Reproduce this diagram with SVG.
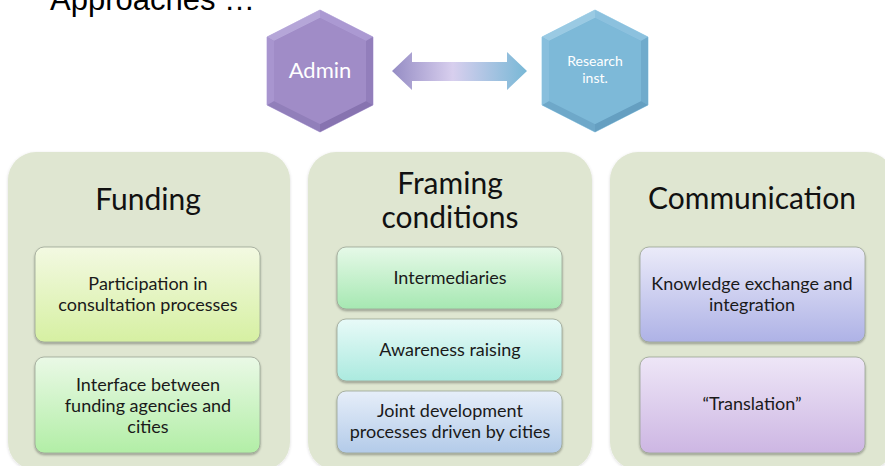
<svg xmlns="http://www.w3.org/2000/svg" width="885" height="466" viewBox="0 0 885 466">
<style>
.title{font-family:"Liberation Sans",Arial,sans-serif;font-size:31px;fill:#000}
.hd{font-family:Lato,"Open Sans",sans-serif;font-size:30px;fill:#111;text-anchor:middle}
.tx{font-family:Lato,"Open Sans",sans-serif;font-size:18px;fill:#1a1a1a;text-anchor:middle}
.hx{font-family:Lato,"Open Sans",sans-serif;fill:#fff;text-anchor:middle}
.panel{fill:#dfe6d1}
.box{stroke:#9aa394;stroke-width:0.8;filter:url(#sh)}
</style>
<defs>
<filter id="sh" x="-5%" y="-5%" width="110%" height="115%">
<feDropShadow dx="0" dy="1.5" stdDeviation="1.2" flood-color="#000" flood-opacity="0.35"/>
</filter>
<filter id="psh" x="-5%" y="-5%" width="110%" height="110%">
<feDropShadow dx="0" dy="1" stdDeviation="1.5" flood-color="#000" flood-opacity="0.15"/>
</filter>
<linearGradient id="arrowG" x1="0" y1="0" x2="1" y2="0">
<stop offset="0" stop-color="#958cc4"/>
<stop offset="0.45" stop-color="#d8cfee"/>
<stop offset="1" stop-color="#78b8d6"/>
</linearGradient>
<linearGradient id="g1" x1="0" y1="0" x2="0" y2="1"><stop offset="0" stop-color="#f3f9e2"/><stop offset="1" stop-color="#d6f0a2"/></linearGradient>
<linearGradient id="g2" x1="0" y1="0" x2="0" y2="1"><stop offset="0" stop-color="#eaf9e6"/><stop offset="1" stop-color="#b2eea6"/></linearGradient>
<linearGradient id="g3" x1="0" y1="0" x2="0" y2="1"><stop offset="0" stop-color="#e6f9e8"/><stop offset="1" stop-color="#a6e8b2"/></linearGradient>
<linearGradient id="g4" x1="0" y1="0" x2="0" y2="1"><stop offset="0" stop-color="#e8faf8"/><stop offset="1" stop-color="#abeadf"/></linearGradient>
<linearGradient id="g5" x1="0" y1="0" x2="0" y2="1"><stop offset="0" stop-color="#e6eef9"/><stop offset="1" stop-color="#b3cbe9"/></linearGradient>
<linearGradient id="g6" x1="0" y1="0" x2="0" y2="1"><stop offset="0" stop-color="#ebebf9"/><stop offset="1" stop-color="#aeb2e6"/></linearGradient>
<linearGradient id="g7" x1="0" y1="0" x2="0" y2="1"><stop offset="0" stop-color="#eee6f7"/><stop offset="1" stop-color="#cdb6e3"/></linearGradient>
</defs>

<rect width="885" height="466" fill="#fff"/>
<text class="title" x="50" y="10">Approaches …</text>

<g id="admin">
<polygon points="320,10 373,37 373,105 320,132 267,105 267,37" fill="#9d89c5" stroke="#c6b9e4" stroke-width="1"/>
<polygon points="320,10 320,18 274,41 267,37" fill="#b5a6d8"/>
<polygon points="320,10 373,37 366,41 320,18" fill="#ab99d2"/>
<polygon points="373,37 373,105 366,101 366,41" fill="#927ebb"/>
<polygon points="373,105 320,132 320,124 366,101" fill="#8773b0"/>
<polygon points="320,132 267,105 274,101 320,124" fill="#917fba"/>
<polygon points="267,105 267,37 274,41 274,101" fill="#a895cf"/>
<polygon points="320,18 366,41 366,101 320,124 274,101 274,41" fill="#a08cc7"/>
<text class="hx" x="320" y="78" font-size="22">Admin</text>
</g>

<g id="research">
<polygon points="595,10 648,37 648,105 595,132 542,105 542,37" fill="#7ab6d6" stroke="#a9d6ec" stroke-width="1"/>
<polygon points="595,10 595,18 549,41 542,37" fill="#9acae3"/>
<polygon points="595,10 648,37 641,41 595,18" fill="#8cc1de"/>
<polygon points="648,37 648,105 641,101 641,41" fill="#70abcc"/>
<polygon points="648,105 595,132 595,124 641,101" fill="#659fc1"/>
<polygon points="595,132 542,105 549,101 595,124" fill="#6ea8c9"/>
<polygon points="542,105 542,37 549,41 549,101" fill="#88bfdd"/>
<polygon points="595,18 641,41 641,101 595,124 549,101 549,41" fill="#7db9d8"/>
<text class="hx" x="595" y="66" font-size="14">Research</text>
<text class="hx" x="595" y="83" font-size="14">inst.</text>
</g>

<g id="connectors">
<polygon points="392,71 412,52 412,62 507,62 507,52 527,71 507,90 507,81 412,81 412,90" fill="url(#arrowG)"/>
</g>

<g id="funding">
<rect class="panel" x="8" y="152" width="282" height="318" rx="28" filter="url(#psh)"/>
<text class="hd" x="148" y="210">Funding</text>
</g>
<g id="funding-1">
<rect class="box" x="35" y="247" width="225" height="95" rx="9" fill="url(#g1)"/>
<text class="tx" x="148" y="290">Participation in</text>
<text class="tx" x="148" y="311">consultation processes</text>
</g>
<g id="funding-2">
<rect class="box" x="35" y="357" width="225" height="96" rx="9" fill="url(#g2)"/>
<text class="tx" x="148" y="391">Interface between</text>
<text class="tx" x="148" y="412">funding agencies and</text>
<text class="tx" x="148" y="433">cities</text>
</g>

<g id="framing">
<rect class="panel" x="308" y="152" width="284" height="318" rx="28" filter="url(#psh)"/>
<text class="hd" x="450" y="194" font-size="29">Framing</text>
<text class="hd" x="450" y="228" font-size="29">conditions</text>
</g>
<g id="framing-1">
<rect class="box" x="337" y="247" width="225" height="62" rx="9" fill="url(#g3)"/>
<text class="tx" x="450" y="284">Intermediaries</text>
</g>
<g id="framing-2">
<rect class="box" x="337" y="319" width="225" height="62" rx="9" fill="url(#g4)"/>
<text class="tx" x="450" y="356">Awareness raising</text>
</g>
<g id="framing-3">
<rect class="box" x="337" y="391" width="225" height="62" rx="9" fill="url(#g5)"/>
<text class="tx" x="450" y="417">Joint development</text>
<text class="tx" x="450" y="438">processes driven by cities</text>
</g>

<g id="communication">
<rect class="panel" x="610" y="152" width="284" height="318" rx="28" filter="url(#psh)"/>
<text class="hd" x="752" y="209">Communication</text>
</g>
<g id="communication-1">
<rect class="box" x="640" y="247" width="225" height="95" rx="9" fill="url(#g6)"/>
<text class="tx" x="752" y="290">Knowledge exchange and</text>
<text class="tx" x="752" y="311">integration</text>
</g>
<g id="communication-2">
<rect class="box" x="640" y="357" width="225" height="96" rx="9" fill="url(#g7)"/>
<text class="tx" x="752" y="410">“Translation”</text>
</g>
</svg>
